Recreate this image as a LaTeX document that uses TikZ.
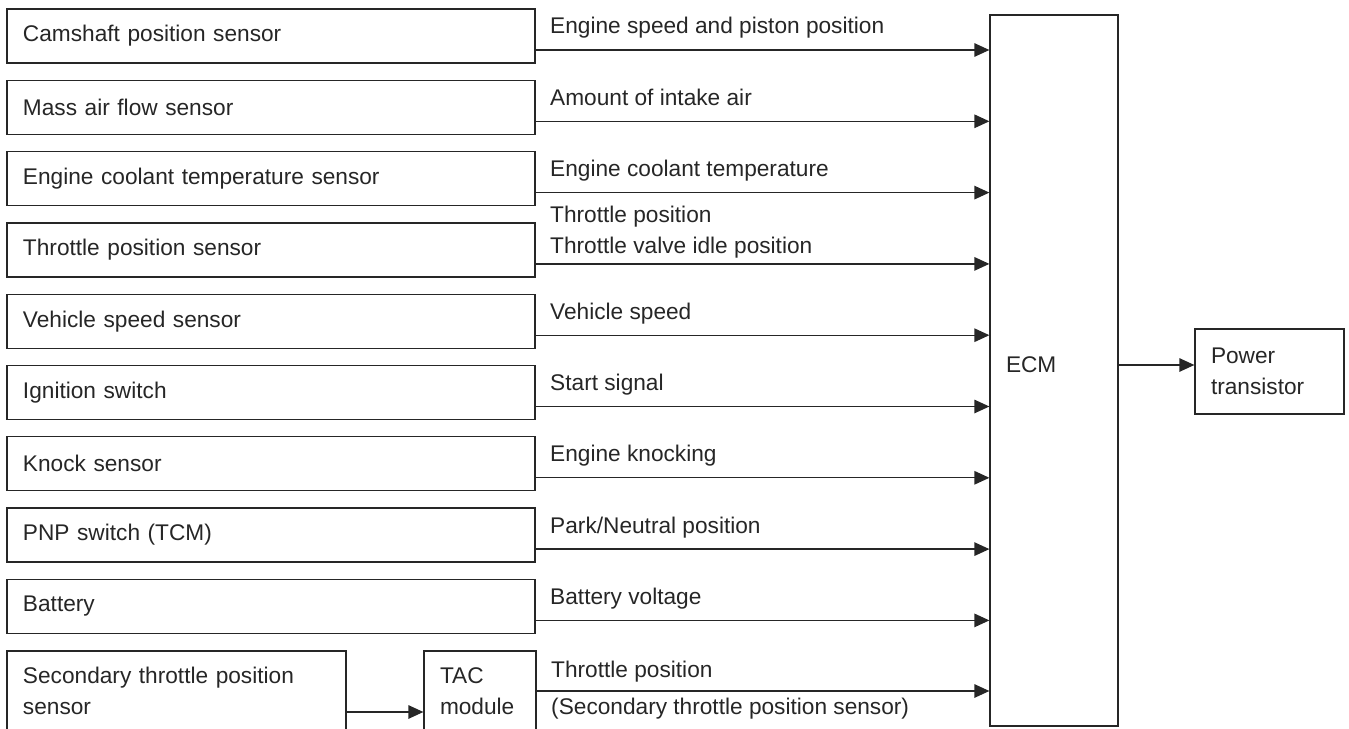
\documentclass[tikz,border=0pt]{standalone}
\usepackage{fontspec}
\setmainfont{Liberation Sans}
\usetikzlibrary{arrows.meta, positioning, calc}

\begin{document}
\begin{tikzpicture}[font=\fontsize{12.9}{17.4}\selectfont, color=black!85,
  entrada/.style={rectangle,draw,line width=0.7pt,minimum height=1.08cm,
                  text width=9.92cm,inner xsep=0.32cm,align=left},
  unidade/.style={rectangle,draw,line width=0.7pt,minimum height=14.22cm,
                  text width=1.92cm,inner xsep=0.32cm,align=left},
  saida/.style={rectangle,draw,line width=0.7pt,minimum height=1.7cm,
                text width=2.34cm,inner xsep=0.32cm,align=left},
  sinal/.style={-{Triangle[length=0.3cm,width=0.27cm]},line width=0.7pt},
  rotulo/.style={anchor=base west,inner sep=0,xshift=0.28cm,yshift=0.32cm}]

  \useasboundingbox (0,0) rectangle (26.98,-14.58);
  \clip (0,0) rectangle (26.98,-14.58);

  % --- sensores ---
  \node[entrada] (cam) at (5.42,-0.72)   {Camshaft position sensor};
  \node[entrada] (maf) at (5.42,-2.146)  {Mass air flow sensor};
  \node[entrada] (ect) at (5.42,-3.572)  {Engine coolant temperature sensor};
  \node[entrada] (tps) at (5.42,-4.998)  {Throttle position sensor};
  \node[entrada] (vss) at (5.42,-6.424)  {Vehicle speed sensor};
  \node[entrada] (ign) at (5.42,-7.85)   {Ignition switch};
  \node[entrada] (ks)  at (5.42,-9.276)  {Knock sensor};
  \node[entrada] (pnp) at (5.42,-10.702) {PNP switch (TCM)};
  \node[entrada] (bat) at (5.42,-12.128) {Battery};
  \node[entrada,text width=6.14cm,minimum height=1.6cm] (stps) at (3.53,-13.82)
        {Secondary throttle position\\ sensor};
  \node[entrada,text width=1.6cm,minimum height=1.6cm] (tac) at (9.6,-13.82)
        {TAC\\ module};

  % --- ECM e saida ---
  \node[unidade,text depth=0.22cm] (ecm) at (21.08,-7.41) {ECM};
  \node[saida] (pt) at (25.39,-7.43) {Power\\ transistor};

  % --- sinais de entrada ---
  \foreach \n/\s in {cam/{Engine speed and piston position}, maf/{Amount of intake air},
                     ect/{Engine coolant temperature}, vss/{Vehicle speed},
                     ign/{Start signal}, ks/{Engine knocking},
                     pnp/{Park/Neutral position}, bat/{Battery voltage}}
    \draw[sinal] ([yshift=-0.28cm]\n.east) -- node[rotulo,pos=0] {\s}
                 ([yshift=-0.28cm]\n.east -| ecm.west);

  \draw[sinal] ([yshift=-0.28cm]tps.east) --
     node[pos=0,anchor=west,inner sep=0,xshift=0.28cm,yshift=0.64cm,align=left]
        {Throttle position\\ Throttle valve idle position}
     ([yshift=-0.28cm]tps.east -| ecm.west);

  % --- TAC ---
  \draw[sinal] ([yshift=-0.42cm]stps.east) -- ([yshift=-0.42cm]stps.east -| tac.west);
  \draw[sinal] (tac.east) --
     node[pos=0,anchor=base west,inner sep=0,xshift=0.28cm,yshift=0.28cm] {Throttle position}
     node[pos=0,anchor=base west,inner sep=0,xshift=0.28cm,yshift=-0.46cm]
        {(Secondary throttle position sensor)}
     (tac.east -| ecm.west);

  % --- saida ---
  \draw[sinal] ([yshift=0.11cm]ecm.east) -- ([yshift=0.11cm]ecm.east -| pt.west);
\end{tikzpicture}
\end{document}
